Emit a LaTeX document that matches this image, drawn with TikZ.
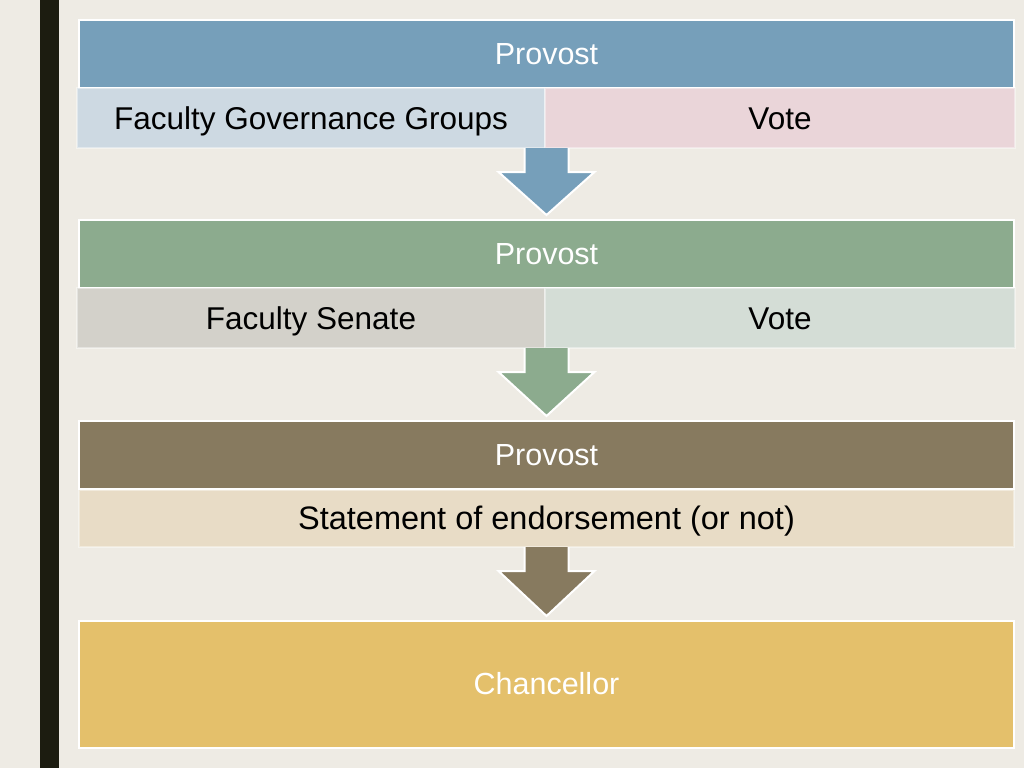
\documentclass[tikz,border=0pt]{standalone}
\usepackage{fontspec}
\setmainfont{Liberation Sans}
\usetikzlibrary{calc}

\definecolor{pagebg}{HTML}{EEEBE4}
\definecolor{sidebar}{HTML}{1C1C10}
\definecolor{blueh}{HTML}{769FBA}
\definecolor{bluec}{HTML}{CDD9E2}
\definecolor{pinkc}{HTML}{EAD5D9}
\definecolor{greenh}{HTML}{8CAB8E}
\definecolor{greyc}{HTML}{D3D1CA}
\definecolor{greenc}{HTML}{D4DDD6}
\definecolor{brownh}{HTML}{877A5F}
\definecolor{brownc}{HTML}{E8DCC6}
\definecolor{gold}{HTML}{E4C06B}

\tikzset{
  head/.style={anchor=north west, minimum width=935pt, minimum height=68pt,
    inner sep=0pt, outer sep=0pt, draw=white, line width=2pt, text=white,
    text height=22pt, text depth=2pt,
    font=\fontsize{30.5}{36}\selectfont},
  cell/.style={anchor=north west, minimum height=60pt, inner sep=0pt,
    outer sep=0pt, draw=white, draw opacity=0.4, line width=1.5pt,
    text height=22pt, text depth=0pt,
    font=\fontsize{31.5}{38}\selectfont},
  blockarrow/.style={draw=white, line width=2pt, line join=miter},
}
% block arrow from the top of the shaft (#2) down to the tip (#3)
\def\blockarrow[#1](#2)(#3){\draw[blockarrow,fill=#1] ($(#2)+(-22,0)$) -- ($(#2)+(-22,24)$) -- ($(#2)+(-48,24)$) -- ($(#3)+(0,-5)$) -- ($(#2)+(48,24)$) -- ($(#2)+(22,24)$) -- ($(#2)+(22,0)$);}

\begin{document}
\begin{tikzpicture}[x=1pt,y=-1pt]
			%%%%% START %%%%%
			\useasboundingbox (0,0) rectangle (1024,768);
			\fill[pagebg] (0,0) rectangle (1024,768);
			\fill[sidebar] (40,0) rectangle (59,768);
			
			% first step
			\node[head, fill=blueh] (prov1) at (79,20) {Provost};
			\node[cell, fill=bluec, minimum width=468pt] (groups) at (77,88) {Faculty Governance Groups};
			\node[cell, fill=pinkc, minimum width=470pt] (vote1) at (545,88) {Vote};
			
			% second step
			\node[head, fill=greenh] (prov2) at (79,220) {Provost};
			\node[cell, fill=greyc, minimum width=468pt] (senate) at (77,288) {Faculty Senate};
			\node[cell, fill=greenc, minimum width=470pt] (vote2) at (545,288) {Vote};
			
			% third step
			\node[head, fill=brownh] (prov3) at (79,421) {Provost};
			\node[cell, fill=brownc, minimum width=935pt, minimum height=57pt, font=\fontsize{32.5}{38}\selectfont] (endorse) at (79,490) {Statement of endorsement (or not)};
			
			% last step
			\node[head, fill=gold, minimum height=127pt] (chanc) at (79,621) {Chancellor};
			
			% arrows
			\coordinate (top1) at (prov1.center |- groups.south);
			\coordinate (top2) at (prov2.center |- senate.south);
			\coordinate (top3) at (prov3.center |- endorse.south);
			\blockarrow[blueh](top1)(prov2.north);
			\blockarrow[greenh](top2)(prov3.north);
			\blockarrow[brownh](top3)(chanc.north);
			
			%%%%% END %%%%%
\end{tikzpicture}
\end{document}
